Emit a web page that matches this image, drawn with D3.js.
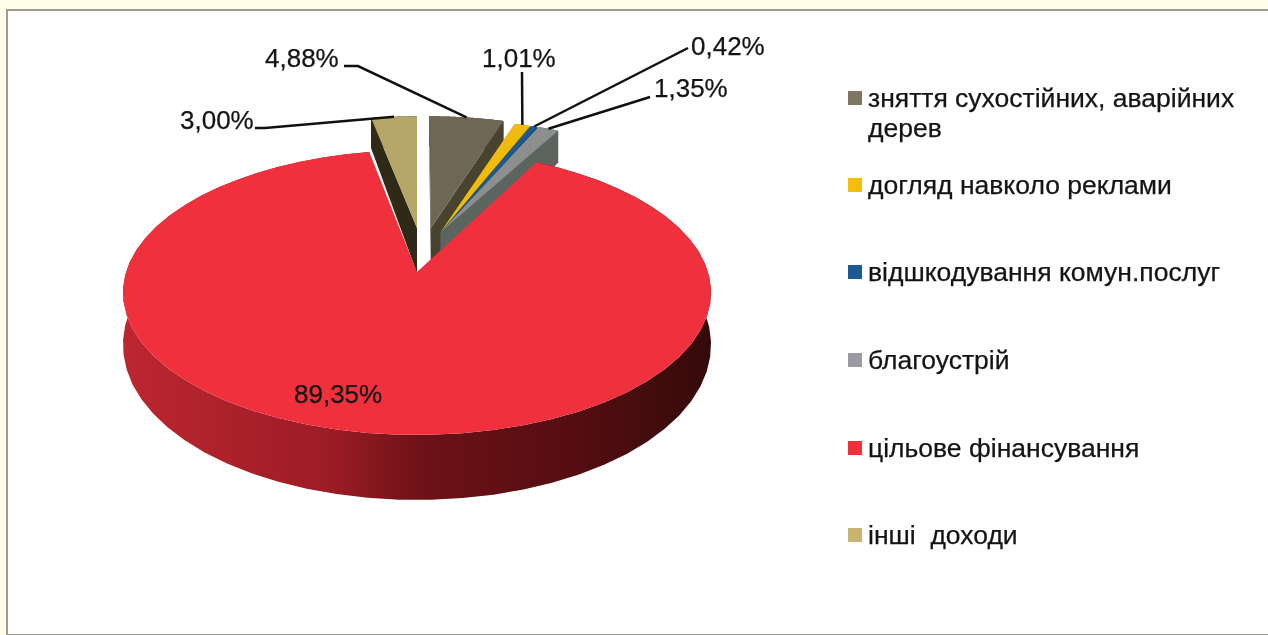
<!DOCTYPE html>
<html>
<head>
<meta charset="utf-8">
<script src="https://cdn.jsdelivr.net/npm/d3@7"></script>
<style>
  html, body { margin: 0; padding: 0; background: #fff; overflow: hidden; }
  svg { display: block; filter: blur(0.45px); }
  text { font-family: "Liberation Sans", Arial, sans-serif; fill: #141414; stroke: #141414; stroke-width: 0.25px; }
</style>
</head>
<body>
<div id="chart"></div>
<script>
// values
const categories = ['зняття сухостійних, аварійних|дерев', 'догляд навколо реклами', 'відшкодування комун.послуг', 'благоустрій', 'цільове фінансування', 'інші  доходи'];
const shares = [4.88, 1.01, 0.42, 1.35, 89.35, 3.00];
const shareLabels = ['4,88%', '1,01%', '0,42%', '1,35%', '89,35%', '3,00%'];

const topColors = ['#6e6753', '#f1bb0c', '#1b5a96', '#8d8f8f', '#f0303c', '#b6a668'];
const wallColors = ['#48432f', '#a8830a', '#123c60', '#5c645f', '#8e1a22', '#2f2a17'];
const legendColors = ['#7d7663', '#f4bd10', '#1c5a96', '#9a9aa2', '#f2303c', '#c8b56f'];

// explosion of each slice on the disc, in radius units
const offsetX = [0.05, 0.095, 0.1, 0.105, 0, 0];
const offsetY = [-0.33, -0.3, -0.3, -0.3, 0, -0.33];
// the tips of the thin slices stay closer in than their rims
const apexX = [0.05, 0.085, 0.085, 0.085, 0, 0];

// where the label text and leader elbow sit
const labelX = [265, 482, 691, 654, 294, 180];
const labelY = [67, 67, 55, 97, 403, 129];
const elbowX = [358, 522, 688, 650, null, 265];
const elbowY = [66, 72, 48, 97, null, 128];
const legendY = [107, 194, 281, 369, 457, 544];

const width = 1268, height = 635;
const cx = 417, cy = 272;
const rx = 291, ry = 139.5, persp = -0.144;

const svg = d3.select('#chart').append('svg')
  .attr('width', width)
  .attr('height', height);

// scanned page edge
svg.append('rect').attr('width', width).attr('height', height).attr('fill', '#fdfdea');
svg.append('rect')
  .attr('x', 7).attr('y', 10)
  .attr('width', width).attr('height', height - 10)
  .attr('fill', '#fff')
  .attr('stroke', '#a09c8c')
  .attr('stroke-width', 2);

const defs = svg.append('defs');
const redWall = defs.append('linearGradient')
  .attr('id', 'redWall')
  .attr('gradientUnits', 'userSpaceOnUse')
  .attr('x1', 125).attr('x2', 712).attr('y1', 0).attr('y2', 0);
[[0, '#bd2630'], [0.35, '#9c1c25'], [0.5, '#6e1217'], [0.8, '#520d10'], [1, '#330a0a']].forEach(s => {
  redWall.append('stop').attr('offset', s[0]).attr('stop-color', s[1]);
});

const pie = d3.pie().sort(null).value(d => d)(shares);
const line = d3.line().curve(d3.curveLinear);

// disc coordinates -> screen, the pie is tilted with a bit of perspective
function project(u, v, low) {
  const w = 1 + persp * v;
  const depth = low ? 50 + 15 * v : 0;
  return [cx + rx * u / w, cy + ry * v / w + depth];
}

function slicePoints(i) {
  const d = pie[i];
  const a = d3.range(0, 61).map(k => d.startAngle + (d.endAngle - d.startAngle) * k / 60);
  return a.map(t => [offsetX[i] + Math.sin(t), offsetY[i] - Math.cos(t)]);
}

function drawWalls(i) {
  const rim = slicePoints(i);
  const apex = [apexX[i], offsetY[i]];
  const fill = i === 4 ? 'url(#redWall)' : wallColors[i];
  if (i !== 4) {
    [rim[0], rim[rim.length - 1]].forEach(p => {
      svg.append('path')
        .attr('d', line([project(apex[0], apex[1]), project(p[0], p[1]), project(p[0], p[1], true), project(apex[0], apex[1], true)]) + 'Z')
        .attr('fill', fill);
    });
  }
  const top = rim.map(p => project(p[0], p[1]));
  const bottom = rim.map(p => project(p[0], p[1], true)).reverse();
  svg.append('path').attr('d', line(top.concat(bottom)) + 'Z').attr('fill', fill);
}

function drawFace(i) {
  const top = slicePoints(i).map(p => project(p[0], p[1]));
  svg.append('path')
    .attr('d', line([project(apexX[i], offsetY[i])].concat(top)) + 'Z')
    .attr('fill', topColors[i]);
}

// exploded slices from the back, red one last
[5, 0].forEach(i => { drawWalls(i); drawFace(i); });
[1, 2, 3].forEach(drawWalls);
[1, 2, 3].forEach(drawFace);
drawWalls(4);
drawFace(4);

// leader lines and value labels
shares.forEach((s, i) => {
  const d = pie[i];
  svg.append('text')
    .attr('x', labelX[i])
    .attr('y', labelY[i])
    .style('font-size', '26px')
    .text(shareLabels[i]);
  if (elbowX[i] === null) return;
  const mid = (d.startAngle + d.endAngle) / 2;
  const end = project(offsetX[i] + Math.sin(mid), offsetY[i] - Math.cos(mid));
  const pts = [[elbowX[i], elbowY[i]], end];
  if (i === 0) pts.unshift([344, 66]);
  if (i === 5) pts.unshift([255, 128]);
  svg.append('path')
    .attr('d', line(pts))
    .attr('fill', 'none')
    .attr('stroke', '#111')
    .attr('stroke-width', 2.5);
});

// legend
categories.forEach((c, i) => {
  const g = svg.append('g');
  g.append('rect')
    .attr('x', 848)
    .attr('y', legendY[i] - 16)
    .attr('width', 14)
    .attr('height', 14)
    .attr('fill', legendColors[i]);
  c.split('|').forEach((t, k) => {
    g.append('text')
      .attr('x', 868)
      .attr('y', legendY[i] + k * 30)
      .style('font-size', '26.5px')
      .style('white-space', 'pre')
      .text(t);
  });
});
</script>
</body>
</html>
